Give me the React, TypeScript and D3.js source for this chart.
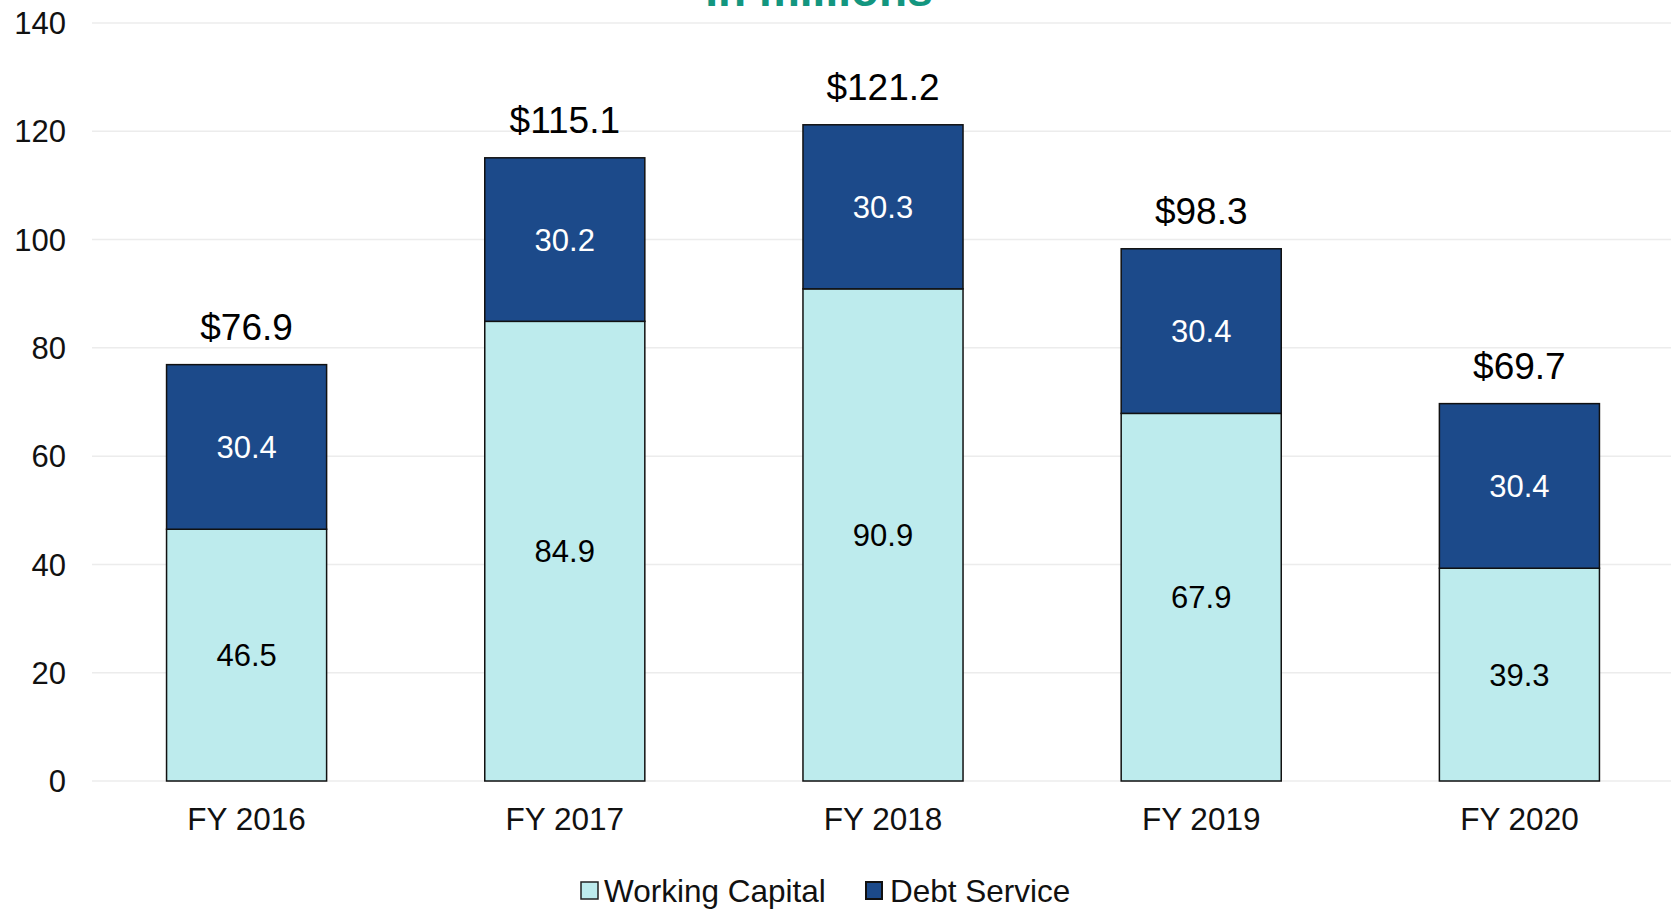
import React from 'react';
import { scaleBand, scaleLinear, stack } from 'd3';

const years = ['FY 2016', 'FY 2017', 'FY 2018', 'FY 2019', 'FY 2020'];
const workingCapital = [46.5, 84.9, 90.9, 67.9, 39.3];
const debtService = [30.4, 30.2, 30.3, 30.4, 30.4];
const totals = [76.9, 115.1, 121.2, 98.3, 69.7];
const yTicks = [0, 20, 40, 60, 80, 100, 120, 140];

const width = 1671;
const height = 909;
const font = '"Liberation Sans", Arial, sans-serif';

const rows = years.map((y, i) => ({ year: y, wc: workingCapital[i], ds: debtService[i] }));

export default function App() {
  const x = scaleBand()
    .domain(years)
    .range([87, 1679])
    .paddingInner(0.497)
    .paddingOuter(0.25);

  const y = scaleLinear().domain([0, 140]).range([781, 23]);

  const series = stack<any>().keys(['wc', 'ds'])(rows);
  const fills = ['#bdebed', '#1c4a8a'];
  const labelColor = ['#000', '#fff'];

  return (
    <svg width={width} height={height} style={{ position: 'absolute', left: 0, top: 0, background: '#fff' }} fontFamily={font}>
      <text x={819} y={6} textAnchor="middle" fontSize={46} fontWeight="bold" fill="#13967f">In millions</text>

      {yTicks.map(t => (
        <g key={t}>
          <line x1={92} x2={width} y1={y(t)} y2={y(t)} stroke="#ececec" strokeWidth={1.5} />
          <text x={66} y={y(t)} dy="0.36em" textAnchor="end" fontSize={31} fill="#111">{t}</text>
        </g>
      ))}

      {series.map((s, si) => (
        <g key={s.key}>
          {s.map((d: any, i) => (
            <g key={i}>
              <rect
                x={x(years[i])}
                y={y(d[1])}
                width={x.bandwidth()}
                height={y(d[0]) - y(d[1])}
                fill={fills[si]}
                stroke="#111"
                strokeWidth={1.5}
              />
              <text
                x={(x(years[i]) as number) + x.bandwidth() / 2}
                y={(y(d[0]) + y(d[1])) / 2}
                dy="0.36em"
                textAnchor="middle"
                fontSize={31}
                fill={labelColor[si]}
              >
                {(d[1] - d[0]).toFixed(1)}
              </text>
            </g>
          ))}
        </g>
      ))}

      {totals.map((t, i) => (
        <text
          key={i}
          x={(x(years[i]) as number) + x.bandwidth() / 2}
          y={y(t) - 25}
          textAnchor="middle"
          fontSize={37}
          fill="#000"
        >
          ${t.toFixed(1)}
        </text>
      ))}

      {years.map(yr => (
        <text
          key={yr}
          x={(x(yr) as number) + x.bandwidth() / 2}
          y={830}
          textAnchor="middle"
          fontSize={31.5}
          fill="#111"
        >
          {yr}
        </text>
      ))}

      <g fontSize={31.5} fill="#111">
        <rect x={581} y={882} width={17} height={17} fill={fills[0]} stroke="#222" strokeWidth={1.5} />
        <text x={604} y={902}>Working Capital</text>
        <rect x={866} y={882} width={16} height={17} fill={fills[1]} stroke="#111" strokeWidth={2} />
        <text x={890} y={902}>Debt Service</text>
      </g>
    </svg>
  );
}
